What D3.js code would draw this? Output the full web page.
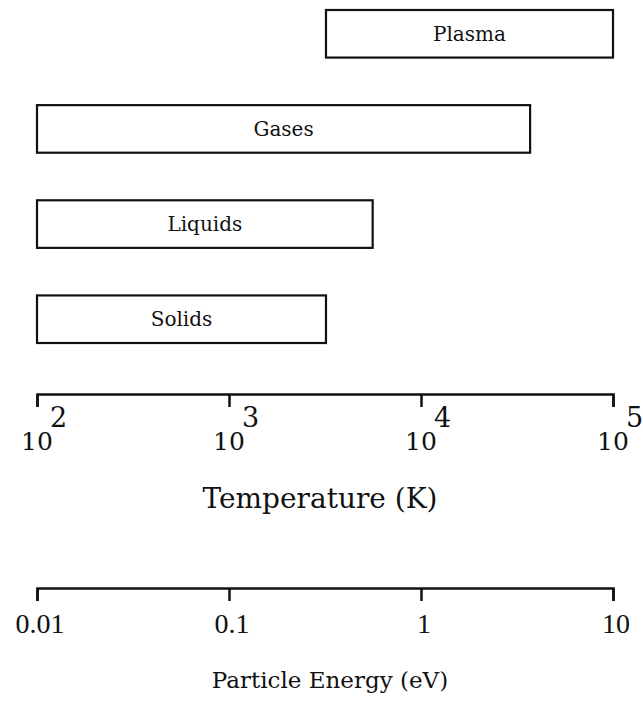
<!DOCTYPE html>
<html>
<head>
<meta charset="utf-8">
<script src="https://cdn.jsdelivr.net/npm/d3@7"></script>
<style>
  body { margin: 0; background: #fff; }
  svg text { font-family: "DejaVu Serif", "Liberation Serif", serif; fill: #111; }
  svg text.elabel { font-family: "Liberation Serif", serif; }
</style>
</head>
<body>
<div id="chart"></div>
<script>
// states of matter and their temperature ranges (K)
var phases = ["Plasma", "Gases", "Liquids", "Solids"];
var tempLow = [3200, 100, 100, 100];
var tempHigh = [100000, 37000, 5600, 3200];

// axis ticks
var tempTicks = [100, 1000, 10000, 100000];
var tempExponents = ["2", "3", "4", "5"];
var energyTicks = [0.01, 0.1, 1, 10];
var energyLabels = ["0.01", "0.1", "1", "10"];

var width = 643, height = 713;

var svg = d3.select("#chart")
    .append("svg")
    .attr("width", width)
    .attr("height", height);

// scales
var x = d3.scaleLog()
    .domain([100, 100000])
    .range([37, 613]);

var xe = d3.scaleLog()
    .domain([0.01, 10])
    .range([37, 613]);

var y = d3.scaleBand()
    .domain(phases)
    .range([10, 343])
    .paddingInner(0.5)
    .paddingOuter(0);

// bars
var bars = svg.selectAll(".bar")
    .data(phases)
    .enter()
    .append("g")
    .attr("class", "bar");

bars.append("rect")
    .attr("x", function (d, i) { return x(tempLow[i]); })
    .attr("y", function (d) { return y(d); })
    .attr("width", function (d, i) { return x(tempHigh[i]) - x(tempLow[i]); })
    .attr("height", y.bandwidth())
    .attr("fill", "none")
    .attr("stroke", "#111")
    .attr("stroke-width", 2.2);

bars.append("text")
    .attr("x", function (d, i) { return (x(tempLow[i]) + x(tempHigh[i])) / 2; })
    .attr("y", function (d) { return y(d) + y.bandwidth() / 2 + 7; })
    .attr("text-anchor", "middle")
    .style("font-size", "20px")
    .text(function (d) { return d; });

// temperature axis
var tAxis = svg.append("g")
    .attr("transform", "translate(0,394)")
    .call(d3.axisBottom(x)
        .tickValues(tempTicks)
        .tickSize(13)
        .tickSizeOuter(13)
        .tickFormat(""));
tAxis.select(".domain").attr("stroke", "#111").attr("stroke-width", 2.5);
tAxis.selectAll(".tick line").attr("stroke", "#111").attr("stroke-width", 2.5);

var tLabels = svg.selectAll(".tlabel")
    .data(tempTicks)
    .enter()
    .append("g")
    .attr("class", "tlabel");
tLabels.append("text")
    .attr("x", function (d) { return x(d); })
    .attr("y", 450)
    .attr("text-anchor", "middle")
    .style("font-size", "25px")
    .text("10");
tLabels.append("text")
    .attr("x", function (d) { return x(d) + 13; })
    .attr("y", 427)
    .style("font-size", "27px")
    .text(function (d, i) { return tempExponents[i]; });

svg.append("text")
    .attr("x", 320)
    .attr("y", 508)
    .attr("text-anchor", "middle")
    .style("font-size", "28px")
    .text("Temperature (K)");

// energy axis
var eAxis = svg.append("g")
    .attr("transform", "translate(0,588)")
    .call(d3.axisBottom(xe)
        .tickValues(energyTicks)
        .tickSize(13)
        .tickSizeOuter(13)
        .tickFormat(""));
eAxis.select(".domain").attr("stroke", "#111").attr("stroke-width", 2.5);
eAxis.selectAll(".tick line").attr("stroke", "#111").attr("stroke-width", 2.5);

svg.selectAll(".elabel")
    .data(energyTicks)
    .enter()
    .append("text")
    .attr("class", "elabel")
    .attr("x", function (d) { return xe(d) + 3; })
    .attr("y", 633)
    .attr("text-anchor", "middle")
    .style("font-size", "28px")
    .text(function (d, i) { return energyLabels[i]; });

svg.append("text")
    .attr("x", 330)
    .attr("y", 688)
    .attr("text-anchor", "middle")
    .style("font-size", "23px")
    .text("Particle Energy (eV)");
</script>
</body>
</html>
